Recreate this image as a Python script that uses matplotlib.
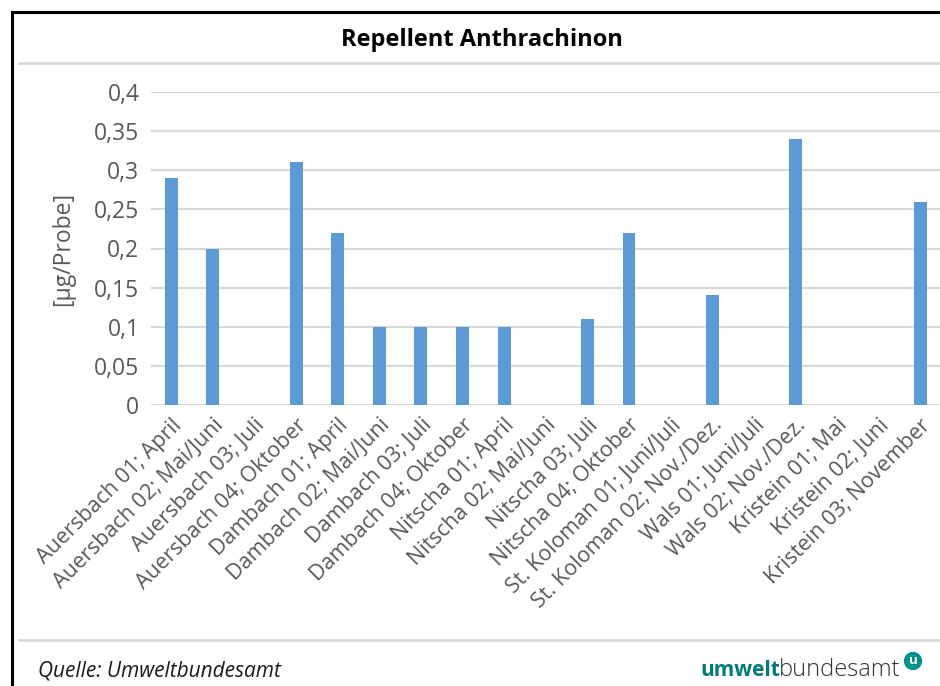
import numpy as np
import matplotlib.pyplot as plt

plt.rcParams['font.family'] = ['Open Sans', 'DejaVu Sans']

proben = ['Auersbach 01; April', 'Auersbach 02; Mai/Juni', 'Auersbach 03; Juli',
          'Auersbach 04; Oktober', 'Dambach 01; April', 'Dambach 02; Mai/Juni',
          'Dambach 03; Juli', 'Dambach 04; Oktober', 'Nitscha 01; April',
          'Nitscha 02; Mai/Juni', 'Nitscha 03; Juli', 'Nitscha 04; Oktober',
          'St. Koloman 01; Juni/Juli', 'St. Koloman 02; Nov./Dez.',
          'Wals 01; Juni/Juli', 'Wals 02; Nov./Dez.', 'Kristein 01; Mai',
          'Kristein 02; Juni', 'Kristein 03; November']
werte = [0.29, 0.20, 0, 0.31, 0.22, 0.10, 0.10, 0.10, 0.10, 0,
         0.11, 0.22, 0, 0.14, 0, 0.34, 0, 0, 0.26]
y_ticks = [0, 0.05, 0.1, 0.15, 0.2, 0.25, 0.3, 0.35, 0.4]
y_labels = ['0', '0,05', '0,1', '0,15', '0,2', '0,25', '0,3', '0,35', '0,4']

W, H = 940, 686
fig = plt.figure(figsize=(W / 100, H / 100), dpi=100)
ax = fig.add_axes([150.5 / W, (H - 405) / H, (941 - 150.5) / W, (405 - 92) / H])

x = np.arange(len(proben))
ax.bar(x, werte, width=0.31, color='#5B9BD5', zorder=3)

ax.set_xlim(-0.5, len(proben) - 0.5)
ax.set_ylim(0, 0.4)
ax.set_yticks(y_ticks)
ax.set_yticklabels(y_labels, fontsize=16.5, color='#595959')
ax.set_xticks(x)
ax.set_xticklabels(proben, rotation=45, ha='right', rotation_mode='anchor',
                   fontsize=15.5, color='#595959')
ax.tick_params(length=0)
ax.tick_params(axis='y', pad=8)
ax.tick_params(axis='x', pad=7)
ax.grid(axis='y', color='#D9D9D9', linewidth=1.6, zorder=0)
for s in ax.spines.values():
    s.set_visible(False)
ax.set_ylabel('[µg/Probe]', fontsize=16.5, color='#595959', labelpad=14)

# Rahmen oben/links und graue Trennlinien
fig.add_artist(plt.Line2D([12 / W, 12 / W], [0, 1 - 12 / H], color='black', lw=2.2))
fig.add_artist(plt.Line2D([12 / W, 1], [1 - 12 / H, 1 - 12 / H], color='black', lw=2.2))
fig.add_artist(plt.Line2D([19 / W, 1], [1 - 63 / H, 1 - 63 / H], color='#D9D9D9', lw=2))
fig.add_artist(plt.Line2D([19 / W, 1], [1 - 640 / H, 1 - 640 / H], color='#D9D9D9', lw=2))

fig.text(482 / W, 1 - 40 / H, 'Repellent Anthrachinon', ha='center', va='center',
         fontsize=17, fontweight='bold', color='black')

fig.text(38 / W, 1 - 671 / H, 'Quelle: Umweltbundesamt', ha='left', va='center',
         fontsize=15, fontstyle='italic', color='#1a1a1a')

t1 = fig.text(700 / W, 1 - 671 / H, 'umwelt', ha='left', va='center',
              fontsize=15, fontweight='bold', color='#007A78')
t2 = fig.text(0, 0, 'bundesamt', ha='left', va='bottom', fontsize=17,
              fontweight='light', color='#333333')
fig.canvas.draw()
bb = t1.get_window_extent()
t2.set_position((bb.x1 / W - 1 / W, bb.y0 / H))
fig.text(913 / W, 1 - 661 / H, 'u', ha='center', va='center', fontsize=9.5,
         fontweight='bold', color='white',
         bbox=dict(boxstyle='circle,pad=0.2', fc='#00918A', ec='none'))

plt.savefig('out.png', dpi=100)
